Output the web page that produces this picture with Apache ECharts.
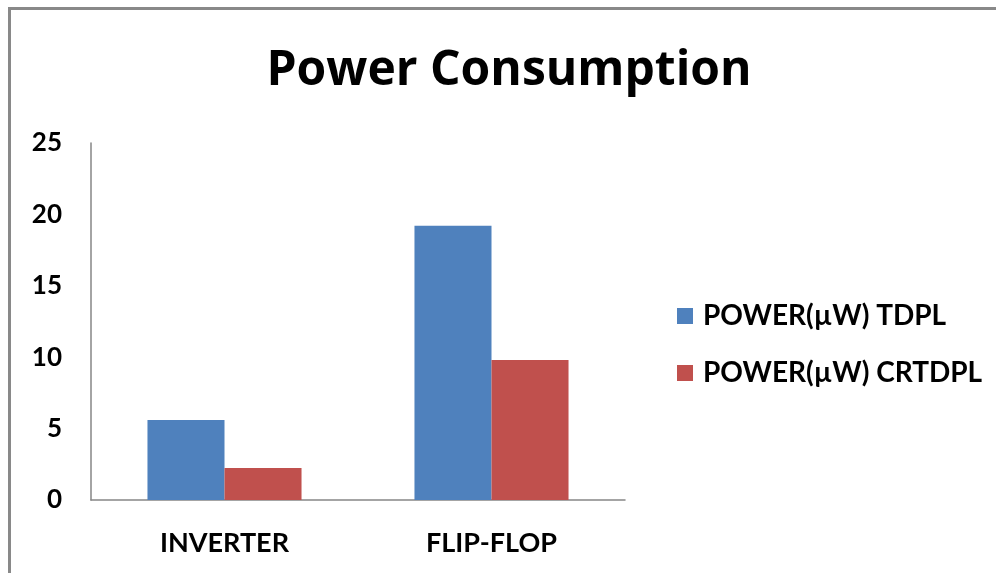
<!DOCTYPE html>
<html>
<head>
<meta charset="utf-8">
<script src="https://cdn.jsdelivr.net/npm/echarts@6/dist/echarts.min.js"></script>
<style>
  html, body { margin: 0; padding: 0; background: #ffffff; }
  #chart { width: 996px; height: 573px; }
</style>
</head>
<body>
<div id="chart"></div>
<script>
// Power consumption of two circuit types under two logic styles
const categories = ['INVERTER', 'FLIP-FLOP'];
const seriesNames = ['POWER(\u00b5W) TDPL', 'POWER(\u00b5W) CRTDPL'];
const tdplPower = [5.6, 19.2];
const crtdplPower = [2.24, 9.8];
const yTicks = { min: 0, max: 25, interval: 5 };

const FONT = 'Lato, "Open Sans", "DejaVu Sans", sans-serif';
const TITLE_FONT = '"Open Sans", Lato, sans-serif';
const AXIS_GREY = '#868686';

const legendText = {
  fontFamily: FONT, fontWeight: 'bold', fontSize: 28, color: '#000000',
  lineHeight: 28, padding: [0, 0, 0, 5]
};

function legendAt(name, top) {
  return {
    orient: 'vertical',
    left: 677,
    top: top,
    padding: 0,
    itemWidth: 16,
    itemHeight: 16,
    icon: 'rect',
    selectedMode: false,
    data: [name],
    textStyle: legendText
  };
}

const chart = echarts.init(document.getElementById('chart'), null, { renderer: 'canvas' });

chart.setOption({
  backgroundColor: '#ffffff',
  animation: false,
  color: ['#4F81BD', '#C0504D'],
  title: {
    text: 'Power Consumption',
    left: 509,
    top: 47,
    padding: 0,
    textAlign: 'center',
    textStyle: { fontFamily: TITLE_FONT, fontWeight: 'bold', fontSize: 48, color: '#000000' }
  },
  graphic: [{
    type: 'polyline',
    silent: true,
    shape: { points: [[9.5, 900], [9.5, 8.5], [1300, 8.5]] },
    style: { fill: 'none', stroke: '#898989', lineWidth: 3 }
  }],
  legend: [
    legendAt(seriesNames[0], 302),
    legendAt(seriesNames[1], 359)
  ],
  grid: { left: 91, top: 143, right: 371, bottom: 73, containLabel: false },
  xAxis: {
    type: 'category',
    data: categories,
    axisLine: { lineStyle: { color: AXIS_GREY, width: 1.5 } },
    axisTick: { show: false },
    axisLabel: {
      margin: 30,
      fontFamily: FONT, fontWeight: 'bold', fontSize: 27, color: '#000000'
    }
  },
  yAxis: {
    type: 'value',
    min: yTicks.min,
    max: yTicks.max,
    interval: yTicks.interval,
    axisLine: { show: true, lineStyle: { color: AXIS_GREY, width: 1.5 } },
    axisTick: { show: false },
    splitLine: { show: false },
    axisLabel: {
      margin: 29,
      fontFamily: FONT, fontWeight: 'bold', fontSize: 26, color: '#000000'
    }
  },
  series: [
    {
      name: seriesNames[0],
      type: 'bar',
      data: tdplPower,
      barGap: '0%',
      barCategoryGap: '42.3%'
    },
    {
      name: seriesNames[1],
      type: 'bar',
      data: crtdplPower,
      barGap: '0%',
      barCategoryGap: '42.3%'
    }
  ]
});
</script>
</body>
</html>
